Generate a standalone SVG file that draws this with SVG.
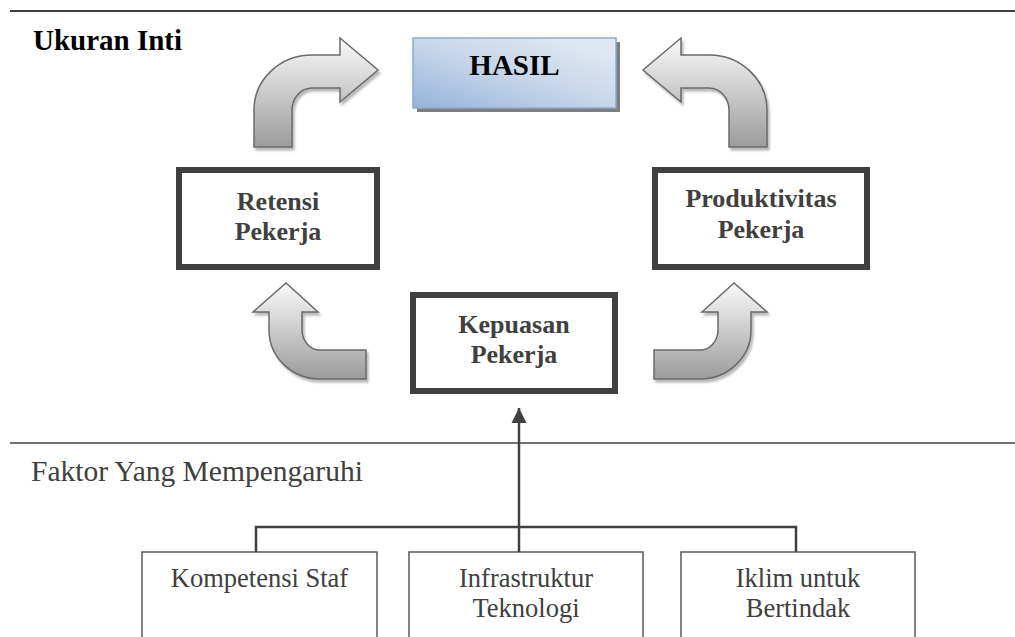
<svg xmlns="http://www.w3.org/2000/svg" width="1015" height="637" viewBox="0 0 1015 637">
  <style>
    .serif { font-family: "Liberation Serif", "Times New Roman", serif; }
    .head { font-size: 29px; font-weight: bold; fill: #000; }
    .core { font-size: 26px; font-weight: bold; fill: #404040; text-anchor: middle; }
    .factor { font-size: 26.5px; fill: #404040; text-anchor: middle; }
    .sect { font-size: 29.5px; fill: #404040; }
    .coreBox { fill: #fff; stroke: #404040; stroke-width: 6; }
    .factorBox { fill: #fff; stroke: #595959; stroke-width: 1.5; }
    .bend { fill: url(#bendFill); stroke: #6b6b6b; stroke-width: 1.5; stroke-linejoin: miter; filter: url(#bendShadow); }
    .rule { stroke: #404040; fill: none; }
    .link { stroke: #404040; fill: none; }
  </style>
  <defs>
    <linearGradient id="bendFill" x1="0" y1="0" x2="0" y2="1">
      <stop offset="0" stop-color="#fafafa"/>
      <stop offset="1" stop-color="#9c9c9c"/>
    </linearGradient>
    <linearGradient id="hasilFill" x1="0" y1="1" x2="0.85" y2="0.1">
      <stop offset="0" stop-color="#95b3d7"/>
      <stop offset="0.55" stop-color="#c6d6ea"/>
      <stop offset="1" stop-color="#dfe7f2"/>
    </linearGradient>
    <filter id="bendShadow" x="-10%" y="-10%" width="130%" height="130%">
      <feDropShadow dx="2" dy="3" stdDeviation="0.8" flood-color="#8c8c8c" flood-opacity="0.6"/>
    </filter>
    <marker id="tip" viewBox="0 0 10 10" refX="10" refY="5" markerWidth="6" markerHeight="6.5" orient="auto" markerUnits="strokeWidth">
      <path d="M0,0 L10,5 L0,10 Z" fill="#404040"/>
    </marker>
  </defs>

  <!-- section rules -->
  <line class="rule" x1="10" y1="11" x2="1015" y2="11" stroke="#000" stroke-width="2"/>
  <line class="rule" x1="10" y1="443" x2="1015" y2="443" stroke-width="1.5"/>

  <text class="serif head" x="33" y="49.5">Ukuran Inti</text>
  <text class="serif sect" x="31" y="481">Faktor Yang Mempengaruhi</text>

  <!-- result node -->
  <g id="hasil">
    <rect x="417" y="42" width="203" height="70" fill="#7f7f7f"/>
    <rect x="413" y="38" width="203" height="70" fill="url(#hasilFill)" stroke="#8eaad0" stroke-width="1.5"/>
    <text class="serif head" x="514.5" y="75" text-anchor="middle">HASIL</text>
  </g>

  <!-- core measures -->
  <g id="retensi">
    <rect class="coreBox" x="179" y="170" width="198" height="97"/>
    <text class="serif core" x="278" y="210">Retensi</text>
    <text class="serif core" x="278" y="240">Pekerja</text>
  </g>
  <g id="produktivitas">
    <rect class="coreBox" x="655" y="170" width="212" height="97"/>
    <text class="serif core" x="761" y="207">Produktivitas</text>
    <text class="serif core" x="761" y="238">Pekerja</text>
  </g>
  <g id="kepuasan">
    <rect class="coreBox" x="413" y="295" width="202" height="96"/>
    <text class="serif core" x="514" y="333">Kepuasan</text>
    <text class="serif core" x="514" y="363">Pekerja</text>
  </g>

  <!-- influencing factors -->
  <g id="kompetensi">
    <rect class="factorBox" x="142" y="552" width="235" height="100"/>
    <text class="serif factor" x="259.5" y="587">Kompetensi Staf</text>
  </g>
  <g id="infrastruktur">
    <rect class="factorBox" x="409" y="552" width="234" height="100"/>
    <text class="serif factor" x="526" y="587">Infrastruktur</text>
    <text class="serif factor" x="526" y="617">Teknologi</text>
  </g>
  <g id="iklim">
    <rect class="factorBox" x="681" y="552" width="234" height="100"/>
    <text class="serif factor" x="798" y="587">Iklim untuk</text>
    <text class="serif factor" x="798" y="617">Bertindak</text>
  </g>

  <!-- connectors -->
  <g id="connectors">
    <!-- bent arrows between core measures -->
    <path class="bend" d="M254 147 L254 110 A58 55 0 0 1 312 55 L340 55 L340 38 L378 70 L340 102 L340 88 L312 88 A20 22 0 0 0 292 110 L292 147 Z"/>
    <path class="bend" d="M767 147 L767 110 A58 55 0 0 0 709 55 L681 55 L681 38 L643 70 L681 102 L681 88 L709 88 A20 22 0 0 1 729 110 L729 147 Z"/>
    <path class="bend" d="M286 283 L318 312 L302 312 L302 330 A18 20 0 0 0 320 350 L366 350 L366 379 L320 379 A51 49 0 0 1 269 330 L269 312 L253 312 Z"/>
    <path class="bend" d="M734 283 L702 312 L718 312 L718 330 A18 20 0 0 1 700 350 L654 350 L654 379 L700 379 A51 49 0 0 0 751 330 L751 312 L767 312 Z"/>

    <!-- factor bus into satisfaction -->
    <polyline class="link" points="256,552 256,527 796,527 796,552" stroke-width="2.5"/>
    <line class="link" x1="519" y1="552" x2="519" y2="408" stroke-width="2.5" marker-end="url(#tip)"/>
  </g>
</svg>
